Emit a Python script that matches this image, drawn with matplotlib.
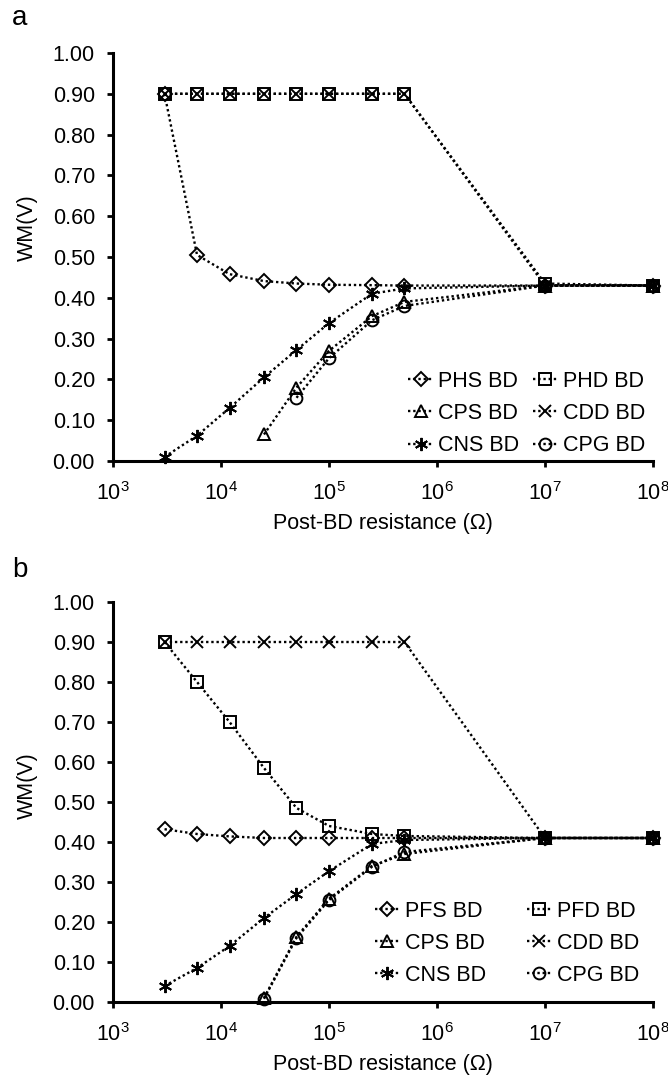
import matplotlib
matplotlib.use("Agg")
import matplotlib.pyplot as plt

plt.rcParams["font.family"] = ["Liberation Sans", "DejaVu Sans"]
plt.rcParams["mathtext.fontset"] = "custom"
plt.rcParams["mathtext.rm"] = "Liberation Sans"
plt.rcParams["mathtext.it"] = "Liberation Sans:italic"

# Post-BD resistance sweep (ohm)
RES = [3e3, 6e3, 1.2e4, 2.5e4, 5e4, 1e5, 2.5e5, 5e5, 1e7, 1e8]
RES_25K = RES[3:]
RES_50K = RES[4:]

# (a) WM(V) vs. breakdown location
A_PHS = [0.90, 0.505, 0.458, 0.441, 0.435, 0.432, 0.431, 0.430, 0.430, 0.430]
A_PHD = [0.90, 0.90, 0.90, 0.90, 0.90, 0.90, 0.90, 0.90, 0.435, 0.430]
A_CPS = [0.065, 0.18, 0.27, 0.355, 0.39, 0.43, 0.43]
A_CDD = [0.90, 0.90, 0.90, 0.90, 0.90, 0.90, 0.90, 0.90, 0.430, 0.430]
A_CNS = [0.01, 0.062, 0.13, 0.205, 0.272, 0.338, 0.41, 0.423, 0.43, 0.43]
A_CPG = [0.155, 0.252, 0.345, 0.38, 0.43, 0.43]

# (b)
B_PFS = [0.432, 0.42, 0.414, 0.41, 0.41, 0.41, 0.41, 0.41, 0.41, 0.41]
B_PFD = [0.90, 0.80, 0.70, 0.585, 0.485, 0.44, 0.42, 0.415, 0.41, 0.41]
B_CPS = [0.01, 0.163, 0.258, 0.34, 0.37, 0.41, 0.41]
B_CDD = [0.90, 0.90, 0.90, 0.90, 0.90, 0.90, 0.90, 0.90, 0.41, 0.41]
B_CNS = [0.04, 0.085, 0.14, 0.21, 0.27, 0.327, 0.395, 0.405, 0.41, 0.41]
B_CPG = [0.008, 0.16, 0.255, 0.338, 0.375, 0.41, 0.41]

Y_TICKS = [i / 10 for i in range(11)]
X_TICKS = [1e3, 1e4, 1e5, 1e6, 1e7, 1e8]
X_TICKLABELS = [r"$\mathregular{10^{%d}}$" % e for e in range(3, 9)]

# marker, size (pt)
MARKERS = {
    "diamond": ("D", 7.5),
    "square": ("s", 8.5),
    "triangle": ("^", 9.0),
    "cross": ("x", 8.0),
    "star": ((6, 2, 0), 9.5),
    "circle": ("o", 8.5),
}
DOT = (0, (1, 1.2))
FS = 15.5


def draw_panel(ax, series, legend_anchor, colspacing):
    handles = []
    for label, kind, x, y in series:
        marker, ms = MARKERS[kind]
        (h,) = ax.plot(
            x, y, linestyle=DOT, linewidth=1.7, color="black",
            marker=marker, markersize=ms, markerfacecolor="none",
            markeredgecolor="black", markeredgewidth=1.4,
            clip_on=False, label=label,
        )
        handles.append(h)

    ax.set_xscale("log")
    ax.set_xlim(1e3, 1e8)
    ax.set_ylim(0, 1)
    ax.set_xticks(X_TICKS)
    ax.set_xticklabels(X_TICKLABELS)
    ax.minorticks_off()
    ax.set_yticks(Y_TICKS)
    ax.set_yticklabels([f"{v:.2f}" for v in Y_TICKS])

    for side in ("top", "right"):
        ax.spines[side].set_visible(False)
    for side in ("left", "bottom"):
        ax.spines[side].set_linewidth(2.2)
    ax.tick_params(axis="both", direction="out", length=4, width=2.0,
                   labelsize=FS)
    ax.tick_params(axis="y", pad=9)
    ax.tick_params(axis="x", pad=11)

    ax.set_xlabel("Post-BD resistance (\u03a9)", fontsize=FS, labelpad=6)
    ax.set_ylabel("WM(V)", fontsize=FS)

    # legend reads row by row, matplotlib fills column by column
    order = [0, 2, 4, 1, 3, 5]
    ax.legend(
        [handles[i] for i in order], [series[i][0] for i in order],
        ncol=2, loc="lower right", bbox_to_anchor=legend_anchor,
        frameon=False, fontsize=FS, numpoints=1, handlelength=1.15,
        handletextpad=0.25, columnspacing=colspacing, labelspacing=0.52,
        borderpad=0, borderaxespad=0,
    )


def main():
    fig = plt.figure(figsize=(6.68, 10.79), dpi=100)
    W, H = 668, 1079

    ax_a = fig.add_axes([113 / W, 1 - 461 / H, 540 / W, 408 / H])
    ax_b = fig.add_axes([113 / W, 1 - 1002 / H, 540 / W, 400 / H])

    series_a = [
        ("PHS BD", "diamond", RES, A_PHS),
        ("PHD BD", "square", RES, A_PHD),
        ("CPS BD", "triangle", RES_25K, A_CPS),
        ("CDD BD", "cross", RES, A_CDD),
        ("CNS BD", "star", RES, A_CNS),
        ("CPG BD", "circle", RES_50K, A_CPG),
    ]
    series_b = [
        ("PFS BD", "diamond", RES, B_PFS),
        ("PFD BD", "square", RES, B_PFD),
        ("CPS BD", "triangle", RES_25K, B_CPS),
        ("CDD BD", "cross", RES, B_CDD),
        ("CNS BD", "star", RES, B_CNS),
        ("CPG BD", "circle", RES_25K, B_CPG),
    ]

    draw_panel(ax_a, series_a, (0.985, 0.012), 0.6)
    draw_panel(ax_b, series_b, (0.975, 0.040), 1.9)

    ax_a.yaxis.set_label_coords(-0.139, 0.571)
    ax_b.yaxis.set_label_coords(-0.139, 0.54)

    fig.text(12 / W, 1 - 18 / H, "a", fontsize=20, va="center", ha="left")
    fig.text(12 / W, 1 - 570 / H, "b", fontsize=20, va="center", ha="left")

    fig.savefig("out.png", dpi=100)
    plt.close(fig)


if __name__ == "__main__":
    main()
